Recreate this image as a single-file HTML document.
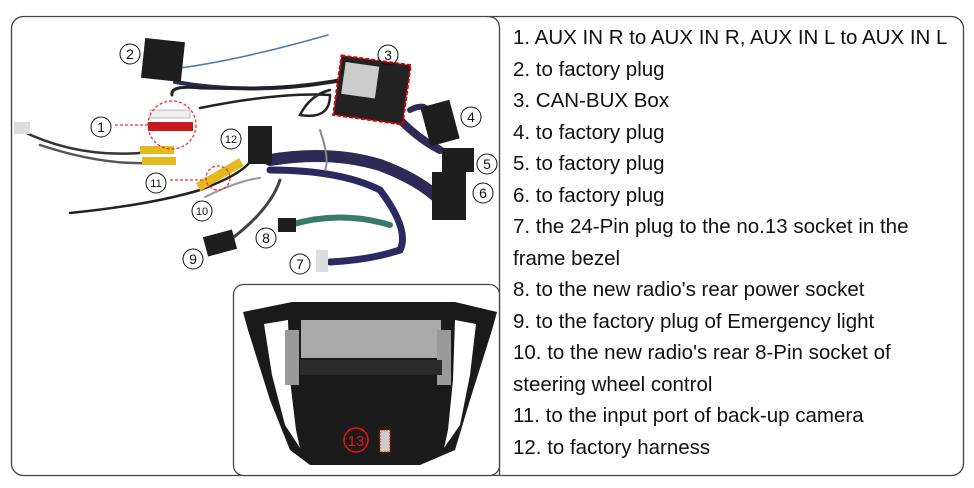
<!DOCTYPE html>
<html><head><meta charset="utf-8"><style>
html,body{margin:0;padding:0;background:#fff;}
body{width:974px;height:488px;position:relative;overflow:hidden;font-family:"Liberation Sans",sans-serif;}
.t{position:absolute;left:513px;font-size:20.5px;color:#111;white-space:nowrap;line-height:20px;}
</style></head><body>
<svg width="974" height="488" style="position:absolute;left:0;top:0" xmlns="http://www.w3.org/2000/svg">
<rect x="11.5" y="16.5" width="952" height="459" rx="12" fill="none" stroke="#444" stroke-width="1.3"/>
<path d="M487 16.5 Q499.5 16.5 499.5 29 V475" fill="none" stroke="#444" stroke-width="1.3"/>
<rect x="233.5" y="284.5" width="266" height="191" rx="10" fill="#fff" stroke="#444" stroke-width="1.3"/>
<g fill="none" stroke-linecap="round">
<path d="M180 68 Q240 60 328 35" stroke="#4a78b8" stroke-width="1.5"/>
<path d="M175 82 Q250 95 330 82 Q380 75 400 78" stroke="#2a2a50" stroke-width="4"/>
<path d="M172 95 Q170 85 200 88 Q300 90 338 80" stroke="#222" stroke-width="3"/>
<path d="M200 108 Q280 92 330 95 Q330 120 300 115 Q310 95 330 90" stroke="#222" stroke-width="2.5"/>
<path d="M20 130 Q80 160 150 152" stroke="#333" stroke-width="2.5"/>
<path d="M40 145 Q100 165 150 163" stroke="#555" stroke-width="2.5"/>
<path d="M70 213 Q150 205 200 190 Q240 175 250 162" stroke="#222" stroke-width="2.5"/>
<path d="M230 240 Q270 210 280 180" stroke="#444" stroke-width="3"/>
<path d="M270 160 Q330 150 380 165 Q420 180 440 200" stroke="#2d2a55" stroke-width="12"/>
<path d="M270 170 Q340 170 380 190 Q410 230 400 250 Q370 260 330 262" stroke="#2a2a60" stroke-width="7"/>
<path d="M290 225 Q340 210 390 225" stroke="#3a7a6a" stroke-width="6"/>
<path d="M320 130 Q330 160 325 170" stroke="#888" stroke-width="2"/>
<path d="M400 120 Q420 140 440 150" stroke="#2d2a55" stroke-width="8"/>
<path d="M410 110 Q430 100 430 120" stroke="#2d2a55" stroke-width="6"/>
<path d="M205 197 Q240 180 260 178" stroke="#999" stroke-width="2"/>
</g>
<rect x="143" y="40" width="40" height="40" fill="#1e1e1e" transform="rotate(6 163 60)"/>
<rect x="337" y="60" width="70" height="60" fill="#222" stroke="#d00" stroke-width="2" stroke-dasharray="4 2" transform="rotate(8 372 90)"/>
<rect x="342" y="66" width="34" height="32" fill="#ccc" transform="rotate(8 372 90)"/>
<rect x="425" y="103" width="30" height="40" fill="#1e1e1e" transform="rotate(-15 440 123)"/>
<rect x="442" y="148" width="32" height="24" fill="#1e1e1e"/>
<rect x="432" y="172" width="34" height="48" fill="#1e1e1e"/>
<rect x="248" y="126" width="24" height="38" fill="#1e1e1e"/>
<rect x="205" y="233" width="30" height="20" fill="#1e1e1e" transform="rotate(-15 220 243)"/>
<rect x="278" y="218" width="18" height="14" fill="#1e1e1e"/>
<rect x="316" y="250" width="12" height="22" fill="#ddd"/>
<rect x="150" y="110" width="40" height="8" fill="#eee" stroke="#bbb"/>
<rect x="148" y="122" width="45" height="9" fill="#c81a1e"/>
<rect x="140" y="146" width="34" height="8" fill="#e5b820"/>
<rect x="142" y="157" width="34" height="8" fill="#e5b820"/>
<rect x="195" y="170" width="50" height="9" fill="#e5b820" transform="rotate(-30 220 175)"/>
<rect x="14" y="122" width="16" height="12" fill="#ddd"/>
<circle cx="172" cy="125" r="24" fill="none" stroke="#e33" stroke-width="1.3" stroke-dasharray="3 2"/>
<circle cx="218" cy="178" r="12" fill="none" stroke="#e33" stroke-width="1.3" stroke-dasharray="3 2"/>
<path d="M115 125 H150 M170 180 H205" stroke="#e33" stroke-width="1.3" stroke-dasharray="3 2"/>
<g font-family="Liberation Sans" font-size="14" text-anchor="middle" fill="#111">
<g fill="none" stroke="#111" stroke-width="1">
<circle cx="101" cy="127" r="10"/><circle cx="130" cy="54" r="10"/><circle cx="388" cy="55" r="10"/>
<circle cx="471" cy="117" r="10"/><circle cx="487" cy="164" r="10"/><circle cx="483" cy="193" r="10"/>
<circle cx="300" cy="264" r="10"/><circle cx="266" cy="238" r="10"/><circle cx="193" cy="259" r="10"/>
<circle cx="202" cy="211" r="10"/><circle cx="156" cy="183" r="10"/><circle cx="231" cy="139" r="10"/>
</g>
<text x="101" y="132">1</text><text x="130" y="59">2</text><text x="388" y="60">3</text>
<text x="471" y="122">4</text><text x="487" y="169">5</text><text x="483" y="198">6</text>
<text x="300" y="269">7</text><text x="266" y="243">8</text><text x="193" y="264">9</text>
<text x="202" y="215" font-size="11">10</text><text x="156" y="187" font-size="11">11</text><text x="231" y="143" font-size="11">12</text>
</g>
<!-- bezel -->
<path d="M243 312 L292 302 L455 302 L497 312 L492 330 L470 400 L455 450 L420 465 L310 465 L290 450 L270 400 L248 330 Z" fill="#1a1a1a"/>
<path d="M264 324 L288 320 L290 380 L296 430 L300 448 L285 425 L272 375 Z" fill="#fff"/>
<path d="M476 324 L455 320 L453 380 L448 430 L444 448 L460 425 L470 375 Z" fill="#fff"/>
<rect x="301" y="320" width="140" height="38" fill="#aaa"/>
<rect x="285" y="330" width="14" height="55" fill="#999"/>
<rect x="437" y="330" width="14" height="55" fill="#999"/>
<rect x="300" y="360" width="142" height="15" fill="#2a2a2a"/>
<circle cx="356" cy="440" r="12" fill="none" stroke="#e11" stroke-width="1.5"/>
<text x="356" y="446" font-family="Liberation Sans" font-size="15" text-anchor="middle" fill="#e11">13</text>
<rect x="380" y="430" width="10" height="22" fill="#ccc" stroke="#e11" stroke-dasharray="2 1"/>
</svg>
<div class="t" style="top:28px">1. AUX IN R to AUX IN R, AUX IN L to AUX IN L</div>
<div class="t" style="top:60px">2. to factory plug</div>
<div class="t" style="top:91px">3. CAN-BUX Box</div>
<div class="t" style="top:123px">4. to factory plug</div>
<div class="t" style="top:154px">5. to factory plug</div>
<div class="t" style="top:186px">6. to factory plug</div>
<div class="t" style="top:217px">7. the 24-Pin plug to the no.13 socket in the</div>
<div class="t" style="top:249px">frame bezel</div>
<div class="t" style="top:280px">8. to the new radio's rear power socket</div>
<div class="t" style="top:312px">9. to the factory plug of Emergency light</div>
<div class="t" style="top:343px">10. to the new radio's rear 8-Pin socket of</div>
<div class="t" style="top:375px">steering wheel control</div>
<div class="t" style="top:406px">11. to the input port of back-up camera</div>
<div class="t" style="top:438px">12. to factory harness</div>
</body></html>
